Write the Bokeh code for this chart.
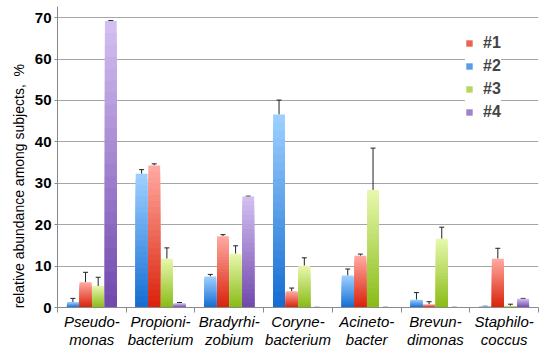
from bokeh.plotting import figure
from bokeh.models import (FixedTicker, Range1d, Whisker, TeeHead,
                          ColumnDataSource, Legend, LegendItem)
from bokeh.embed import file_html
from bokeh.resources import INLINE

# ---------------- data ----------------
genera = ["Pseudo-\nmonas", "Propioni-\nbacterium", "Bradyrhi-\nzobium",
          "Coryne-\nbacterium", "Acineto-\nbacter", "Brevun-\ndimonas",
          "Staphilo-\ncoccus"]
# series in drawing order inside each group: #2, #1, #3, #4
s2 = [1.3, 32.3, 7.5, 46.6, 7.7, 1.9, 0.2]
s2_err = [0.9, 1.0, 0.5, 3.5, 1.6, 1.7, 0.1]
s1 = [6.1, 34.3, 17.2, 3.9, 12.5, 0.7, 11.8]
s1_err = [2.4, 0.4, 0.4, 0.8, 0.4, 0.7, 2.5]
s3 = [5.2, 11.8, 13.0, 10.1, 28.4, 16.6, 0.4]
s3_err = [2.1, 2.6, 1.9, 1.9, 10.1, 2.8, 0.4]
s4 = [69.2, 1.0, 26.8, 0.0, 0.0, 0.0, 2.1]
s4_err = [0.1, 0.2, 0.1, 0.05, 0.05, 0.05, 0.1]
y_ticks = [0, 10, 20, 30, 40, 50, 60, 70]
legend_labels = ["#1", "#2", "#3", "#4"]

# ---------------- styling ----------------
FONT = "Liberation Sans"
series = [
    # (values, errors, legend label, light(top), dark(bottom), offset)
    (s2, s2_err, "#2", (0x9c, 0xcf, 0xff), (0x16, 0x6e, 0xd2), -0.276),
    (s1, s1_err, "#1", (0xff, 0xa8, 0xa0), (0xda, 0x24, 0x0c), -0.092),
    (s3, s3_err, "#3", (0xe6, 0xf7, 0xab), (0x8a, 0xbc, 0x18), 0.092),
    (s4, s4_err, "#4", (0xd2, 0xbe, 0xf0), (0x72, 0x4a, 0xae), 0.276),
]
BAR_W = 0.172
N = 24  # gradient steps

p = figure(width=547, height=352, output_backend="svg", toolbar_location=None,
           x_range=Range1d(0, len(genera)), y_range=Range1d(0, 72.7),
           min_border_left=57, min_border_right=9, min_border_top=6,
           min_border_bottom=45)
p.outline_line_color = None
p.background_fill_color = "white"
p.xgrid.grid_line_color = None
p.ygrid.grid_line_color = "#a6a6a6"
p.ygrid.grid_line_width = 1


def hexcol(c):
    return "#%02x%02x%02x" % tuple(int(round(v)) for v in c)


renderers = {}
for vals, errs, lab, light, dark, off in series:
    xs, tops, cols = [], [], []
    for k in range(N):
        t = k / (N - 1)
        col = hexcol([light[j] + (dark[j] - light[j]) * t for j in range(3)])
        for i, v in enumerate(vals):
            xs.append(i + 0.5 + off)
            tops.append(v * (N - k) / N)
            cols.append(col)
    src = ColumnDataSource(dict(x=xs, top=tops, color=cols))
    r = p.vbar(x="x", top="top", bottom=0, width=BAR_W, source=src,
               fill_color="color", line_color=None)
    renderers[lab] = r
    esrc = ColumnDataSource(dict(
        x=[i + 0.5 + off for i in range(len(vals))],
        lower=list(vals),
        upper=[v + e for v, e in zip(vals, errs)]))
    w = Whisker(base="x", lower="lower", upper="upper", source=esrc,
                dimension="height", line_color="#222222", line_width=1,
                upper_head=TeeHead(size=5, line_color="#222222", line_width=1),
                lower_head=None)
    p.add_layout(w)

# ---------------- axes ----------------
xa = p.xaxis[0]
xa.ticker = FixedTicker(ticks=[i + 0.5 for i in range(len(genera))],
                        minor_ticks=list(range(len(genera) + 1)))
xa.major_label_overrides = {i + 0.5: g for i, g in enumerate(genera)}
xa.major_tick_out = 0
xa.major_tick_in = 0
xa.minor_tick_out = 5
xa.minor_tick_in = 0
xa.minor_tick_line_color = "#8a8a8a"
xa.axis_line_color = "#8a8a8a"
xa.major_label_text_font = FONT
xa.major_label_text_font_style = "italic"
xa.major_label_text_font_size = "15px"
xa.major_label_text_color = "black"
xa.major_label_text_line_height = 1.1
xa.major_label_standoff = 0

ya = p.yaxis[0]
ya.ticker = FixedTicker(ticks=y_ticks)
ya.minor_tick_line_color = None
ya.major_tick_out = 3
ya.major_tick_in = 0
ya.major_tick_line_color = "#8a8a8a"
ya.axis_line_color = "#8a8a8a"
ya.major_label_text_font = FONT
ya.major_label_text_font_style = "bold"
ya.major_label_text_font_size = "15px"
ya.major_label_text_color = "black"
ya.major_label_standoff = 3
ya.axis_label = ("relative abundance among subjects," + "\u00a0" * 2 + "%"
                 + "\u00a0" * 15)
ya.axis_label_text_font = FONT
ya.axis_label_text_font_style = "normal"
ya.axis_label_text_font_size = "14px"
ya.axis_label_text_color = "black"
ya.axis_label_standoff = 5

# ---------------- legend ----------------
items = [LegendItem(label=lab, renderers=[renderers[lab]], index=7 * (N // 2))
         for lab in legend_labels]
leg = Legend(items=items, location=(408, 186), background_fill_color="white",
             background_fill_alpha=1.0, border_line_color=None,
             glyph_width=8, glyph_height=8, label_standoff=10,
             label_text_font=FONT, label_text_font_style="bold",
             label_text_font_size="16px", label_height=18, label_width=18,
             spacing=5, padding=13, margin=0)
p.add_layout(leg, "center")

open("out.html", "w").write(file_html(p, INLINE))
